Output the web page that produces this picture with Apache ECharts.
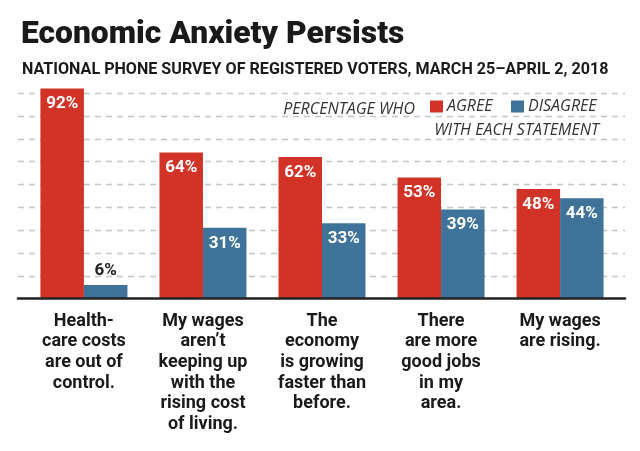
<!DOCTYPE html>
<html>
<head>
<meta charset="utf-8">
<style>html,body{margin:0;padding:0;background:#fff;}#c{width:640px;height:451px;}</style>
<script src="https://cdn.jsdelivr.net/npm/echarts@6/dist/echarts.min.js"></script>
</head>
<body>
<div id="c"></div>
<script>
var categories = [
  "Health-\ncare costs\nare out of\ncontrol.",
  "My wages\naren\u2019t\nkeeping up\nwith the\nrising cost\nof living.",
  "The\neconomy\nis growing\nfaster than\nbefore.",
  "There\nare more\ngood jobs\nin my\narea.",
  "My wages\nare rising."
];
var agree = [92, 64, 62, 53, 48];
var disagree = [6, 31, 33, 39, 44];
var yTicks = [0, 10, 20, 30, 40, 50, 60, 70, 80, 90];

var RED = '#d13427', BLUE = '#3f7399';
var COND = "Roboto, 'Liberation Sans', sans-serif";
var ITAL = "'Open Sans', 'Noto Sans', sans-serif";

function mk(arr) {
  return arr.map(function (v) {
    if (v < 12) {
      return { value: v, label: { position: 'top', distance: 6, color: '#222' } };
    }
    return v;
  });
}

var chart = echarts.init(document.getElementById('c'), null, { renderer: 'canvas' });
var labelStyle = {
  show: true, position: 'insideTop', distance: 7, color: '#fff',
  fontFamily: COND, fontWeight: 'bold', fontSize: 17,
  formatter: function (p) { return p.value + '%'; }
};
chart.setOption({
  animation: false,
  backgroundColor: '#fff',
  title: [
    { text: 'Economic Anxiety Persists', left: 16, top: 14.5,
      textStyle: { fontFamily: COND, fontWeight: 900, fontSize: 31.8, color: '#1a1a1a' } },
    { text: 'NATIONAL PHONE SURVEY OF REGISTERED VOTERS, MARCH 25\u2013APRIL 2, 2018', left: 17, top: 57,
      textStyle: { fontFamily: COND, fontWeight: 'bold', fontSize: 16.1, color: '#1a1a1a' } },
    { text: 'PERCENTAGE WHO', right: 220, top: 96,
      textStyle: { fontFamily: ITAL, fontStyle: 'italic', fontWeight: 'normal', fontSize: 16, color: '#333' } },
    { text: 'WITH EACH STATEMENT', right: 36, top: 117,
      textStyle: { fontFamily: ITAL, fontStyle: 'italic', fontWeight: 'normal', fontSize: 16, color: '#333' } }
  ],
  legend: [
    { data: ['AGREE'], left: 430, top: 98.5, itemWidth: 13, itemHeight: 12, icon: 'rect', padding: 0,
      selectedMode: false,
      textStyle: { fontFamily: ITAL, fontStyle: 'italic', fontSize: 16, color: '#333', padding: [0, 0, 0, -1] } },
    { data: ['DISAGREE'], left: 511, top: 98.5, itemWidth: 13, itemHeight: 12, icon: 'rect', padding: 0,
      selectedMode: false,
      textStyle: { fontFamily: ITAL, fontStyle: 'italic', fontSize: 16, color: '#333', padding: [0, 0, 0, -1] } }
  ],
  grid: [
    { left: 18, right: 15, top: 70.2, bottom: 152.3 },
    { left: 24.4, right: 20.4, top: 70.2, bottom: 152.3 }
  ],
  xAxis: [
    { gridIndex: 0, type: 'category', data: categories, z: 10,
      axisLine: { show: true, lineStyle: { color: '#222', width: 2.6 } },
      axisTick: { show: false }, axisLabel: { show: false }, splitLine: { show: false } },
    { gridIndex: 1, type: 'category', data: categories,
      axisLine: { show: false }, axisTick: { show: false },
      axisLabel: { interval: 0, margin: 12, fontFamily: COND, fontWeight: 'bold', fontSize: 18,
        lineHeight: 20.7, color: '#1a1a1a', align: 'center' } }
  ],
  yAxis: [
    { gridIndex: 0, type: 'value', min: 0, max: 100, interval: 10,
      axisLine: { show: false }, axisTick: { show: false }, axisLabel: { show: false },
      splitLine: { show: true, showMinLine: false, showMaxLine: false,
        lineStyle: { color: '#c4c4c4', width: 1.3, type: [6, 5] } } },
    { gridIndex: 1, type: 'value', min: 0, max: 100, interval: 10,
      axisLine: { show: false }, axisTick: { show: false }, axisLabel: { show: false },
      splitLine: { show: false } }
  ],
  series: [
    { name: 'AGREE', type: 'bar', xAxisIndex: 1, yAxisIndex: 1, data: mk(agree),
      barWidth: 43.5, barGap: '0%', itemStyle: { color: RED }, label: labelStyle },
    { name: 'DISAGREE', type: 'bar', xAxisIndex: 1, yAxisIndex: 1, data: mk(disagree),
      barWidth: 43.5, barGap: '0%', itemStyle: { color: BLUE }, label: labelStyle }
  ]
});
</script>
</body>
</html>
